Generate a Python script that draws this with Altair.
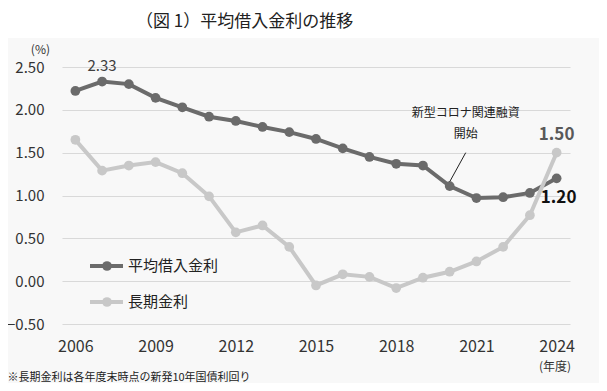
import altair as alt
import pandas as pd

years = list(range(2006, 2025))
avg_rate = [2.22, 2.33, 2.30, 2.14, 2.03, 1.92, 1.87, 1.80, 1.74, 1.66, 1.55, 1.45,
            1.37, 1.35, 1.11, 0.97, 0.98, 1.03, 1.20]
long_rate = [1.65, 1.29, 1.35, 1.39, 1.26, 0.99, 0.57, 0.65, 0.40, -0.05, 0.08, 0.05,
             -0.08, 0.04, 0.11, 0.23, 0.40, 0.77, 1.50]
series_names = ["平均借入金利", "長期金利"]
series_colors = ["#6b6b6b", "#c8c8c8"]
x_ticks = [2006, 2009, 2012, 2015, 2018, 2021, 2024]
y_ticks = [-0.5, 0.0, 0.5, 1.0, 1.5, 2.0, 2.5]

title_text = "（図 1）平均借入金利の推移"
footnote = "※長期金利は各年度末時点の新発10年国債利回り"
note_lines = ["新型コロナ関連融資", "開始"]

FONT = "Noto Sans CJK JP"
W, H = 508, 257

df = pd.DataFrame({
    "year": years * 2,
    "value": avg_rate + long_rate,
    "series": [series_names[0]] * len(years) + [series_names[1]] * len(years),
})

xs = alt.Scale(domain=[2005.5, 2024.5], nice=False, zero=False)
ys = alt.Scale(domain=[-0.5, 2.5], nice=False, zero=False)
cs = alt.Scale(domain=series_names, range=series_colors)

X = alt.X("year:Q", scale=xs, title=None,
          axis=alt.Axis(values=x_ticks, format="d", grid=False, domain=False, ticks=False,
                        labelFontSize=16, labelColor="#333333", labelPadding=14, labelFont=FONT))
Y = alt.Y("value:Q", scale=ys, title=None,
          axis=alt.Axis(values=y_ticks, format=".2f", grid=True, gridColor="#d9d9d9",
                        domain=False, ticks=False, labelFontSize=15, labelColor="#333333",
                        labelPadding=18, labelFont=FONT))

# white band behind the title (chart background is the light grey box)
topband = alt.Chart(pd.DataFrame({"a": [0]})).mark_rect(fill="white").encode(
    x=alt.value(-60), x2=alt.value(W + 40), y=alt.value(-60), y2=alt.value(-29))

base = alt.Chart(df)
lines = base.mark_line(strokeWidth=4).encode(
    x=X, y=Y, color=alt.Color("series:N", scale=cs, legend=None),
    detail="series:N")
pts = base.mark_point(filled=True, size=95, opacity=1).encode(
    x="year:Q", y="value:Q", color=alt.Color("series:N", scale=cs, legend=None))

lab_df = pd.DataFrame({"year": [2007, 2024, 2024], "value": [2.33, 1.50, 1.20],
                       "txt": ["2.33", "1.50", "1.20"]})
lab233 = alt.Chart(lab_df.iloc[[0]]).mark_text(fontSize=15, color="#404040", dy=-16, font=FONT).encode(
    x="year:Q", y="value:Q", text="txt:N")
lab150 = alt.Chart(lab_df.iloc[[1]]).mark_text(fontSize=17, fontWeight="bold", color="#595959",
                                              dy=-18, font=FONT).encode(
    x="year:Q", y="value:Q", text="txt:N")
lab120 = alt.Chart(lab_df.iloc[[2]]).mark_text(fontSize=17, fontWeight="bold", color="#111111",
                                              dy=20, dx=2, font=FONT).encode(
    x="year:Q", y="value:Q", text="txt:N")

note_df = pd.DataFrame({"year": [2020.6, 2020.6], "value": [1.966, 1.72], "txt": note_lines})
note = alt.Chart(note_df).mark_text(fontSize=12, color="#222222", font=FONT).encode(
    x="year:Q", y="value:Q", text="txt:N")
leader_df = pd.DataFrame({"year": [2020.6], "value": [1.50], "year2": [2020.0], "value2": [1.16]})
leader = alt.Chart(leader_df).mark_rule(color="#222222", strokeWidth=1).encode(
    x="year:Q", y="value:Q", x2="year2:Q", y2="value2:Q")

# legend
leg = []
for i, (nm, col) in enumerate(zip(series_names, series_colors)):
    yy = 199 + 36 * i
    one = pd.DataFrame({"t": [nm]})
    leg.append(alt.Chart(one).mark_rule(color=col, strokeWidth=4).encode(
        x=alt.value(28), x2=alt.value(61), y=alt.value(yy)))
    leg.append(alt.Chart(one).mark_point(filled=True, size=95, color=col, opacity=1).encode(
        x=alt.value(45), y=alt.value(yy)))
    leg.append(alt.Chart(one).mark_text(align="left", baseline="middle", fontSize=15,
                                         color="#222222", font=FONT).encode(
        x=alt.value(66), y=alt.value(yy), text="t:N"))

def txt(s, x, y, size, align="center", color="#333333"):
    return alt.Chart(pd.DataFrame({"t": [s]})).mark_text(
        align=align, baseline="middle", fontSize=size, color=color, font=FONT).encode(
        x=alt.value(x), y=alt.value(y), text="t:N")

title = txt(title_text, 74, -45.5, 17, align="left", color="#222222")
pct = txt("(%)", -21.6, -17.3, 12)
nendo = txt("(年度)", 493, 299.5, 12)
foot = txt(footnote, -54.6, 310.5, 11, align="left", color="#222222")

chart = alt.layer(topband, lines, pts, lab233, lab150, lab120, note, leader, *leg,
                  title, pct, nendo, foot).properties(
    width=W, height=H,
    autosize=alt.AutoSizeParams(type="none"),
    padding={"left": 54, "top": 59, "right": 29, "bottom": 59},
    background="#f8f8f8",
).configure_view(stroke=None)

chart.save("out.html", embed_options={"renderer": "svg", "actions": False})
